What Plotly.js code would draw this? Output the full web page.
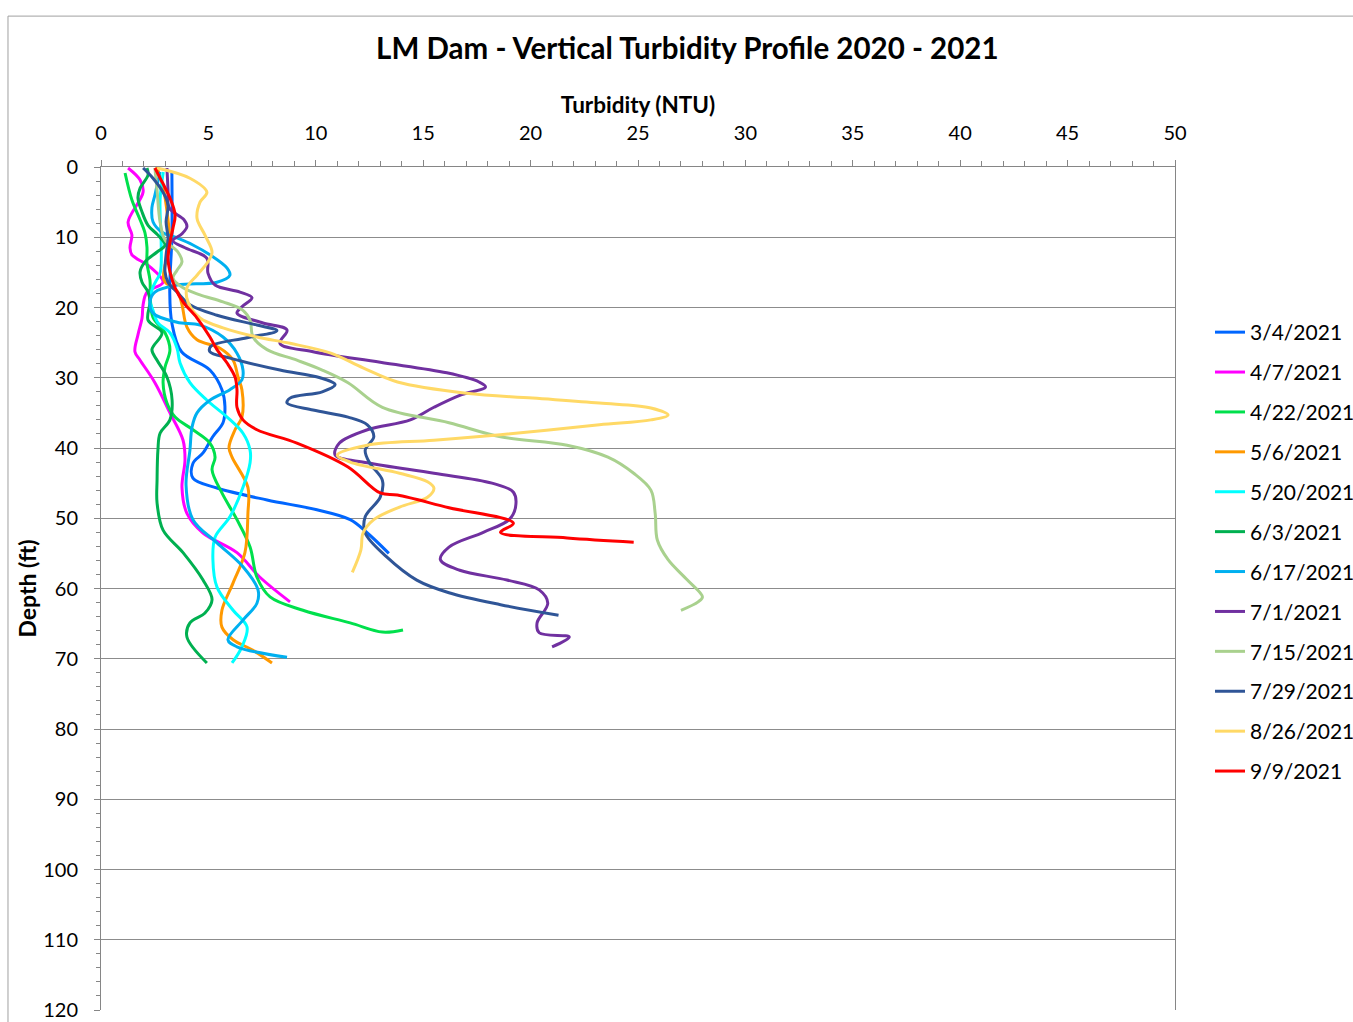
<!DOCTYPE html>
<html>
<head>
<meta charset="utf-8">
<script src="https://cdn.plot.ly/plotly-3.0.1.min.js"></script>
<style>
html,body{margin:0;padding:0;background:#fff;}
#chart{width:1353px;height:1022px;}
</style>
</head>
<body>
<div id="chart"></div>
<script>
// Series names (legend labels)
const seriesNames = ["3/4/2021","4/7/2021","4/22/2021","5/6/2021","5/20/2021","6/3/2021","6/17/2021","7/1/2021","7/15/2021","7/29/2021","8/26/2021","9/9/2021"];
const seriesColors = ["#0066FF","#FF00FF","#00E04C","#FF9900","#00FFFF","#00B050","#00B0F0","#7030A0","#A9D18E","#2F5597","#FFD966","#FF0000"];

// 3/4/2021
const turb_0304 = [3.3,3.3,3.2,3.3,3.75,5.07,5.63,5.77,5.68,5.2,4.75,4.28,4.28,5.4,7.73,10.05,11.6,12.4,13.4];
const depth_0304 = [0.85,10,17.5,22.2,26.3,28.9,31.7,34.1,36.4,38.4,40.7,42.2,44.3,45.7,47.4,48.8,50.2,52.1,55];
// 4/7/2021
const turb_0407 = [1.26,1.82,1.96,1.26,1.44,1.35,1.44,2.28,2.89,2.14,1.96,1.91,1.72,1.58,1.82,2.51,3.21,3.82,3.91,3.77,4.0,4.75,6.33,7.4,8.8];
const depth_0407 = [0.14,1.85,3.56,7.83,9.68,11.5,12.5,14.2,16.4,17.8,19.6,21.5,23.9,26.3,27.5,30.7,35.0,38.9,41.7,45.6,49.3,52.1,54.9,58.4,61.9];
// 4/22/2021
const turb_0422 = [1.12,1.44,1.82,2.05,2.14,2.14,2.28,2.3,2.42,2.98,3.21,2.98,2.89,3.07,3.45,4.28,5.07,5.31,5.17,5.63,6.33,6.94,7.26,7.87,9.4,11.6,13.1,14.06];
const depth_0422 = [0.85,4.7,7.5,9.4,11.4,13.7,16.1,18.9,21.4,23.6,26.0,28.5,30.7,33.6,35.6,37.4,39.3,41.3,43.1,46.4,50.2,54.1,58.4,61.2,63.1,64.9,66.2,65.9];
// 5/6/2021
const turb_0506 = [2.6,2.9,3.1,3.2,2.93,3.58,3.77,4.0,4.47,5.54,6.15,6.38,6.56,6.56,6.24,5.96,6.1,6.84,6.84,6.7,6.15,5.63,5.63,6.15,7.08,7.96];
const depth_0506 = [0,3,7,11,16.1,17.8,19.6,22.8,24.6,25.8,27.5,29.9,31.7,35.6,37.4,39.9,41.3,45.6,49.3,54.9,59.2,63.1,65.5,67.3,68.8,70.6];
// 5/20/2021
const turb_0520 = [2.9,2.75,2.8,2.8,2.75,2.42,2.28,2.42,2.65,3.21,3.54,3.68,4.14,4.93,5.87,6.61,6.94,6.94,6.61,6.0,5.31,5.21,5.4,6.15,6.8,6.56,6.1];
const depth_0520 = [0.7,4.7,10.4,14.0,15.1,17.1,18.9,20.4,22.2,23.6,25.8,27.9,30.7,33.2,35.6,37.9,40.3,42.1,45.6,49.8,52.7,55.9,59.8,63.1,65.5,68.3,70.6];
// 6/3/2021
const turb_0603 = [2.14,2.19,1.82,1.72,1.91,2.19,2.65,2.98,2.61,2.05,1.82,1.91,2.19,2.28,2.19,2.84,2.37,2.61,3.07,3.31,3.21,2.75,2.65,2.61,2.61,2.89,3.82,4.75,5.17,4.84,4.14,4.0,4.93];
const depth_0603 = [0.14,1.14,3.0,4.4,6.4,8.3,9.7,11.1,12.1,13.5,14.9,16.4,17.8,19.2,21.8,23.6,26.0,27.5,29.9,33.2,36.0,37.9,40.3,44.6,47.8,51.7,54.9,58.8,61.6,63.5,64.9,66.9,70.6];
// 6/17/2021
const turb_0617 = [2.75,2.61,2.51,2.37,2.42,2.84,3.54,4.28,5.07,5.87,6.0,5.4,3.54,2.51,2.28,2.42,3.54,4.61,5.68,6.33,6.61,6.56,6.0,5.07,4.47,4.24,4.14,3.96,4.28,5.4,6.61,7.31,7.26,6.61,5.91,6.33,8.66];
const depth_0617 = [0.7,2.6,4.0,5.8,7.8,9.3,10.1,11.1,12.5,14.4,15.4,16.4,16.8,17.8,19.2,20.8,22.1,22.5,24.2,26.5,28.9,30.3,31.7,33.2,35.0,37.0,40.3,45.3,50.2,53.5,56.9,60.2,62.1,64.5,67.3,68.3,69.8];
// 7/1/2021
const turb_0701 = [3.07,3.12,3.17,3.86,4.0,3.77,3.35,3.91,4.93,4.98,5.31,6.47,7.03,6.56,6.33,7.54,8.66,8.33,9.87,13.0,16.1,17.6,17.9,16.7,15.5,14.4,12.4,11.1,10.9,12.4,15.5,18.2,19.2,19.3,19.0,17.8,16.2,15.8,16.7,18.9,20.4,20.8,20.3,20.4,21.8,21.0];
const depth_0701 = [0.14,3.3,5.8,7.5,8.5,9.5,10.5,11.5,13.0,15.1,16.8,17.8,18.6,19.9,20.8,22.2,23.2,25.1,26.3,27.8,29.3,30.6,31.3,32.5,34.2,36.0,37.4,39.3,41.0,42.1,43.6,45.0,46.3,48.4,50.2,52.0,54.1,55.9,57.4,58.8,60.2,62.1,64.9,66.3,66.9,68.3];
// 7/15/2021
const turb_0715 = [2.51,2.61,2.75,2.98,3.58,3.77,3.54,3.35,3.82,4.61,5.68,6.61,6.94,7.08,7.73,9.12,10.3,11.5,13.1,16.2,18.6,21.7,23.6,24.8,25.6,25.8,25.9,26.4,27.3,28.0,27.8,27.0];
const depth_0715 = [0.14,3.3,7.8,10.4,12.1,13.5,14.7,15.8,17.2,18.2,19.2,20.4,21.8,24.2,26.0,27.5,28.9,30.7,34.2,36.4,38.4,39.6,41.3,43.6,46.0,49.3,53.1,55.9,58.8,61.2,61.9,63.1];
// 7/29/2021
const turb_0729 = [1.96,2.42,2.89,3.12,3.03,3.12,3.03,2.98,3.12,3.54,4.14,5.4,7.26,8.19,6.8,5.12,5.07,6.0,8.33,10.2,10.9,10.3,8.8,8.66,9.87,11.5,12.4,12.7,12.3,12.5,13.1,13.0,12.3,12.3,13.3,14.7,16.2,18.6,21.3];
const depth_0729 = [0.14,1.6,3.6,5.4,7.8,10.1,12.5,14.9,16.4,17.8,19.6,21.1,22.5,23.3,24.3,25.5,26.3,27.2,28.9,30.0,31.0,32.0,32.9,33.6,34.6,35.6,36.7,38.4,40.3,42.1,44.6,47.0,49.8,52.1,55.5,58.8,60.6,62.3,63.8];
// 8/26/2021
const turb_0826 = [2.61,4.14,4.93,4.61,4.47,4.84,5.17,4.98,4.47,4.0,4.05,4.61,5.68,7.26,8.8,10.7,12.2,13.8,17.0,20.1,23.2,25.6,26.4,25.6,23.2,18.6,15.5,12.4,11.0,11.6,13.9,15.2,15.5,15.2,13.9,12.7,12.2,12.1,11.7];
const depth_0826 = [0.14,1.6,3.6,5.0,7.3,9.7,12.1,13.5,15.4,17.2,19.2,21.5,22.9,24.2,25.1,26.5,28.6,30.6,32.2,32.9,33.6,34.3,35.3,36.0,36.7,38.1,38.9,39.6,41.0,42.0,43.6,44.8,45.7,47.0,48.4,50.2,52.1,54.5,57.7];
// 9/9/2021
const turb_0909 = [2.51,2.84,3.21,3.45,3.35,3.21,3.12,3.21,3.45,3.82,4.47,5.07,5.4,5.87,6.24,6.33,6.33,6.61,7.26,9.12,11.5,13.0,13.8,16.2,19.2,18.6,21.7,24.8];
const depth_0909 = [0.14,2.1,4.4,6.8,8.7,10.7,13.0,14.9,17.2,19.2,21.5,24.2,26.0,27.9,29.9,31.7,34.2,36.0,37.4,39.3,42.7,46.4,46.7,48.5,50.7,52.0,52.8,53.4];

// Axis tick labels
const xTickVals = [0,5,10,15,20,25,30,35,40,45,50];
const yTickVals = [0,10,20,30,40,50,60,70,80,90,100,110,120];

const turbSeries = [turb_0304,turb_0407,turb_0422,turb_0506,turb_0520,turb_0603,turb_0617,turb_0701,turb_0715,turb_0729,turb_0826,turb_0909];
const depthSeries = [depth_0304,depth_0407,depth_0422,depth_0506,depth_0520,depth_0603,depth_0617,depth_0701,depth_0715,depth_0729,depth_0826,depth_0909];

const FONT = "Lato, 'Open Sans', sans-serif";

const traces = seriesNames.map((name, i) => ({
  type: 'scatter',
  mode: 'lines',
  name: name,
  legendgroup: name,
  x: turbSeries[i],
  y: depthSeries[i],
  line: {color: seriesColors[i], width: 3, shape: 'spline', smoothing: 1},
  hoverinfo: 'x+y+name'
}));

const layout = {
  width: 1353,
  height: 1022,
  margin: {l: 101, r: 178, t: 167, b: 12, pad: 0, autoexpand: false},
  paper_bgcolor: '#ffffff',
  plot_bgcolor: '#ffffff',
  font: {family: FONT, color: '#000000', size: 20},
  title: {
    text: '<b>LM Dam - Vertical Turbidity Profile 2020 - 2021</b>',
    font: {family: FONT, size: 29.5, color: '#000'},
    xref: 'container', x: 0.508, xanchor: 'center',
    yref: 'container', y: 0.952, yanchor: 'middle'
  },
  xaxis: {
    side: 'top',
    range: [0, 50],
    tickvals: xTickVals,
    ticktext: xTickVals.map(String),
    ticks: 'outside', ticklen: 6, tickcolor: '#868686', tickwidth: 1,
    minor: {dtick: 1, ticks: 'outside', ticklen: 5, tickcolor: '#868686', showgrid: false},
    showline: true, linecolor: '#868686', linewidth: 1,
    showgrid: false, zeroline: false,
    tickfont: {family: FONT, size: 20, color: '#000'},
    ticklabelstandoff: 12,
    title: {text: '<b>Turbidity (NTU)</b>', font: {family: FONT, size: 22.5, color: '#000'}, standoff: 0}
  },
  yaxis: {
    range: [120, 0],
    tickvals: yTickVals,
    ticktext: yTickVals.map(String),
    ticks: 'outside', ticklen: 6, tickcolor: '#868686', tickwidth: 1,
    minor: {dtick: 2, ticks: 'outside', ticklen: 4, tickcolor: '#868686', showgrid: false},
    showline: true, linecolor: '#868686', linewidth: 1, mirror: true,
    showgrid: true, gridcolor: '#8c8c8c', gridwidth: 1, zeroline: false,
    tickfont: {family: FONT, size: 20, color: '#000'},
    ticklabelstandoff: 12,
    title: {text: '<b>Depth (ft)</b>', font: {family: FONT, size: 23, color: '#000'}, standoff: 0}
  },
  legend: {
    x: 1.0326, xanchor: 'left',
    y: 0.828, yanchor: 'top',
    font: {family: FONT, size: 21, color: '#000'},
    tracegroupgap: 9.6,
    traceorder: 'grouped',
    itemwidth: 30,
    bgcolor: 'rgba(0,0,0,0)'
  },
  showlegend: true,
  shapes: [{
    type: 'rect', xref: 'paper', yref: 'paper',
    x0: -0.0866, x1: 1.25, y0: -0.05, y1: 1.179,
    line: {color: '#A0A0A0', width: 1}, fillcolor: 'rgba(0,0,0,0)', layer: 'below'
  }]
};

Plotly.newPlot('chart', traces, layout, {displayModeBar: false, staticPlot: true});
</script>
</body>
</html>
